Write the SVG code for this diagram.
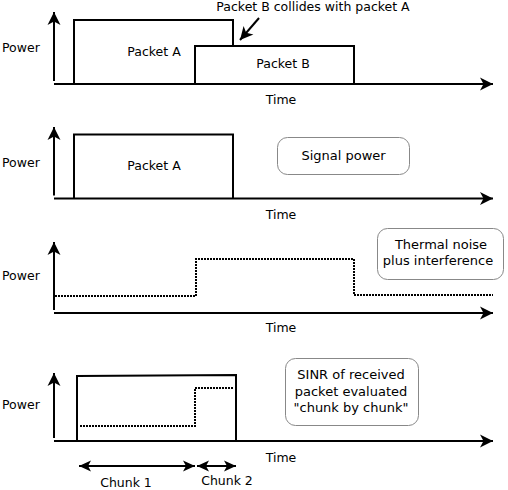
<svg xmlns="http://www.w3.org/2000/svg" width="508" height="490" viewBox="0 0 508 490">
<style>
text{font-family:"DejaVu Sans","Liberation Sans",sans-serif;font-size:12.5px;fill:#000}
.c{text-anchor:middle}
.bx{font-size:13px}
.ax{fill:none;stroke:#000;stroke-width:2}
.sl{fill:none;stroke:#000;stroke-width:2}
.dt{fill:none;stroke:#000;stroke-width:2;stroke-dasharray:2 1}
.box{fill:#fff;stroke:#888;stroke-width:1}
</style>
<defs>
<marker id="ah" markerUnits="userSpaceOnUse" markerWidth="16" markerHeight="16" viewBox="-14 -8 16 16" refX="0" refY="0" orient="auto">
<path d="M0,0 L-13,-6.5 L-9.5,0 L-13,6.5 Z" fill="#000"/>
</marker>
<marker id="as" markerUnits="userSpaceOnUse" markerWidth="14" markerHeight="14" viewBox="-13 -7 14 14" refX="0" refY="0" orient="auto-start-reverse">
<path d="M0,0 L-12,-5.5 L-9,0 L-12,5.5 Z" fill="#000"/>
</marker>
</defs>

<g id="panel1">
<text x="2" y="52">Power</text>
<text class="c" x="281" y="104">Time</text>
<path class="sl" d="M74,84 V20 H233 V46"/>
<path class="sl" d="M195,84 V46 H354 V84"/>
<text class="c" x="154" y="56">Packet A</text>
<text class="c" x="283" y="68">Packet B</text>
<text class="c" x="313" y="11">Packet B collides with packet A</text>
</g>

<g id="panel2">
<text x="2" y="166.5">Power</text>
<text class="c" x="281" y="218.5">Time</text>
<path class="sl" d="M74,198.5 V134.5 H233 V198.5"/>
<text class="c" x="154" y="170">Packet A</text>
<g id="signal-power">
<rect class="box" x="277.5" y="137.5" width="132" height="37" rx="10"/>
<text class="c bx" x="343.5" y="160">Signal power</text>
</g>
</g>

<g id="panel3">
<text x="2" y="280">Power</text>
<text class="c" x="281" y="332">Time</text>
<path class="dt" d="M55,296 H196 V259 H354 V295 H493"/>
<g id="noise-box">
<rect class="box" x="377.5" y="228.5" width="126" height="51" rx="10"/>
<text class="c bx" x="441" y="249">Thermal noise</text>
<text class="c bx" x="438" y="264.5">plus interference</text>
</g>
</g>

<g id="panel4">
<text x="2" y="409">Power</text>
<text class="c" x="281" y="461.5">Time</text>
<path class="sl" d="M77,441 V376 L236,375 V441"/>
<path class="dt" d="M80,426 H195 V388 H233"/>
<g id="sinr-box">
<rect class="box" x="285.5" y="358.5" width="133" height="67" rx="10"/>
<text class="c bx" x="351" y="379">SINR of received</text>
<text class="c bx" x="351" y="395.5">packet evaluated</text>
<text class="c bx" x="351" y="412">"chunk by chunk"</text>
</g>
<text class="c" x="126" y="487">Chunk 1</text>
<text class="c" x="227" y="484.5">Chunk 2</text>
</g>

<g id="connectors">
<line class="ax" x1="54" y1="81" x2="54" y2="12" marker-end="url(#ah)"/>
<line class="ax" x1="54" y1="84" x2="493" y2="84" marker-end="url(#ah)"/>
<line class="ax" x1="54" y1="195.5" x2="54" y2="127" marker-end="url(#ah)"/>
<line class="ax" x1="54" y1="198.5" x2="493" y2="198.5" marker-end="url(#ah)"/>
<line class="ax" x1="54" y1="310" x2="54" y2="242" marker-end="url(#ah)"/>
<line class="ax" x1="54" y1="313" x2="493" y2="313" marker-end="url(#ah)"/>
<line class="ax" x1="54" y1="438" x2="54" y2="373" marker-end="url(#ah)"/>
<line class="ax" x1="54" y1="441" x2="493" y2="441" marker-end="url(#ah)"/>
<line class="ax" x1="259" y1="18" x2="240" y2="40" marker-end="url(#ah)"/>
<line class="ax" x1="79" y1="466" x2="195" y2="466" marker-start="url(#as)" marker-end="url(#as)"/>
<line class="ax" x1="197" y1="466" x2="236" y2="466" marker-start="url(#as)" marker-end="url(#as)"/>
</g>
</svg>
